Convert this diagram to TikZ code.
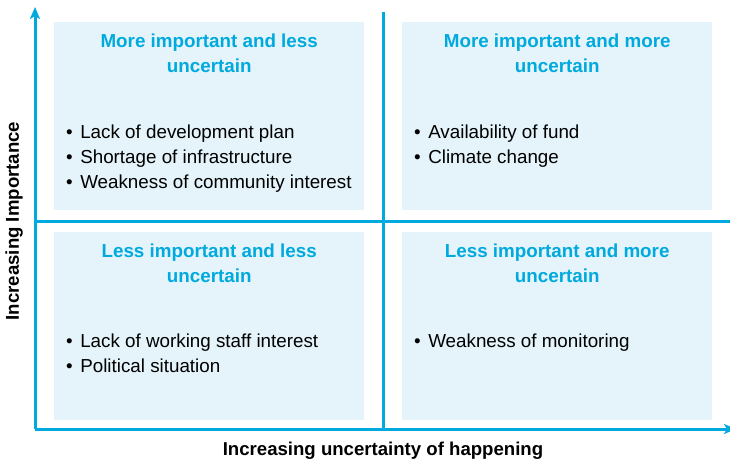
\documentclass[tikz,border=0pt]{standalone}
\usepackage{fontspec}
\setmainfont{Liberation Sans}
\usetikzlibrary{arrows.meta,positioning,calc}
\definecolor{quadblue}{RGB}{0,169,222}
\definecolor{quadfill}{RGB}{229,244,250}
\newcommand{\itemdot}{•\hspace{7.5pt}}

\begin{document}
\begin{tikzpicture}[>={Stealth[length=12pt,width=10pt,inset=3pt]}, x=1pt, y=1pt,
    quad/.style={fill=quadfill, minimum width=310pt, minimum height=188pt,
      inner sep=0pt, anchor=south west},
    quadtitle/.style={font=\bfseries\fontsize{18.8}{25.5}\selectfont,
      text=quadblue, align=center, anchor=base},
    items/.style={font=\fontsize{18.8}{25}\selectfont, align=left,
      anchor=base west, inner sep=0pt},
    axis/.style={quadblue, line width=3pt},
    axislabel/.style={font=\bfseries\fontsize{18.6}{22}\selectfont}]
  \useasboundingbox (0,0) rectangle (730,458);
  % quadrant boxes
  \node[quad] (tl) at (54,248) {};
  \node[quad] (tr) at (402,248) {};
  \node[quad] (bl) at (54,38) {};
  \node[quad] (br) at (402,38) {};
  % quadrant titles (base = last line)
  \node[quadtitle] (tltitle) at ($(tl.north)+(0,-51)$) {More important and less\\uncertain};
  \node[quadtitle] (trtitle) at ($(tr.north)+(0,-51)$) {More important and more\\uncertain};
  \node[quadtitle] (bltitle) at ($(bl.north)+(0,-51)$) {Less important and less\\uncertain};
  \node[quadtitle] (brtitle) at ($(br.north)+(0,-51)$) {Less important and more\\uncertain};
  % risk factors
  \node[items] (tlitems) at ($(tl.north west)+(12,-167)$)
    {\itemdot Lack of development plan\\\itemdot Shortage of infrastructure\\\itemdot Weakness of community interest};
  \node[items] (tritems) at ($(tr.north west)+(12,-142)$)
    {\itemdot Availability of fund\\\itemdot Climate change};
  \node[items] (blitems) at ($(bl.north west)+(12,-141)$)
    {\itemdot Lack of working staff interest\\\itemdot Political situation};
  \node[items] (britems) at ($(br.north west)+(12,-116)$)
    {\itemdot Weakness of monitoring};
  % Draw axes
  \coordinate (origin) at (35,29);
  \coordinate (ytop) at (35,451);
  \coordinate (xend) at (736,29);
  \draw[axis,->] (origin) -- (ytop);
  \draw[axis,->] (origin) -- (xend);
  % dividers
  \coordinate (vtop) at (383,446);
  \coordinate (vbot) at (383,29);
  \coordinate (hleft) at (35,236);
  \coordinate (hright) at (730,236);
  \draw[axis] (vbot) -- (vtop);
  \draw[axis] (hleft) -- (hright);
  % axis labels
  \node[axislabel, rotate=90] (ylabel) at (14,237) {Increasing Importance};
  \node[axislabel, anchor=base] (xlabel) at (383,3) {Increasing uncertainty of happening};
\end{tikzpicture}
\end{document}
